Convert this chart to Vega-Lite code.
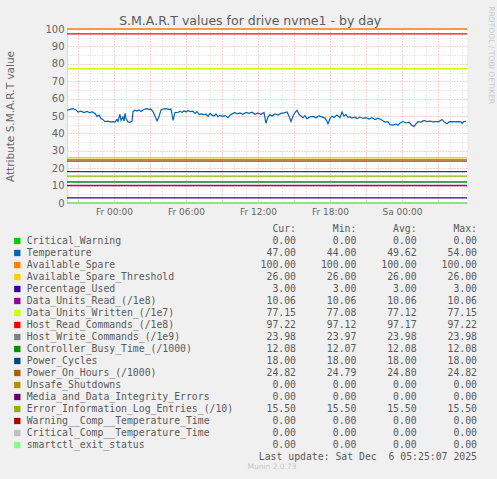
{
  "$schema": "https://vega.github.io/schema/vega-lite/v6.json",
  "background": "#F0F0F0",
  "padding": {"left": 5, "right": 3, "top": 5, "bottom": 8},
  "bounds": "flush",
  "spacing": 26,
  "title": {"text": "S.M.A.R.T values for drive nvme1 - by day", "font": "DejaVu Sans", "fontSize": 12.5, "fontWeight": "normal", "color": "#5c5c5c", "anchor": "middle", "offset": -22},
  "config": {"view": {"stroke": null}, "font": "DejaVu Sans"},
  "datasets": {
    "temperature": [
      {"time": "2025-12-04T20:05", "value": 53.3}, {"time": "2025-12-04T20:20", "value": 53.8}, {"time": "2025-12-04T20:35", "value": 54.2}, {"time": "2025-12-04T20:50", "value": 53.5},
      {"time": "2025-12-04T21:00", "value": 52.3}, {"time": "2025-12-04T21:15", "value": 52.8}, {"time": "2025-12-04T21:30", "value": 52.0}, {"time": "2025-12-04T21:45", "value": 52.6},
      {"time": "2025-12-04T22:00", "value": 51.8}, {"time": "2025-12-04T22:10", "value": 52.5}, {"time": "2025-12-04T22:25", "value": 51.5}, {"time": "2025-12-04T22:35", "value": 49.8},
      {"time": "2025-12-04T22:45", "value": 50.5}, {"time": "2025-12-04T22:55", "value": 48.5}, {"time": "2025-12-04T23:05", "value": 47.9}, {"time": "2025-12-04T23:15", "value": 46.8},
      {"time": "2025-12-04T23:30", "value": 47.0}, {"time": "2025-12-04T23:40", "value": 46.6}, {"time": "2025-12-04T23:55", "value": 46.8},
      {"time": "2025-12-05T00:05", "value": 46.5}, {"time": "2025-12-05T00:15", "value": 48.0}, {"time": "2025-12-05T00:20", "value": 46.9}, {"time": "2025-12-05T00:30", "value": 51.0},
      {"time": "2025-12-05T00:35", "value": 47.5}, {"time": "2025-12-05T00:45", "value": 49.5}, {"time": "2025-12-05T00:50", "value": 47.0}, {"time": "2025-12-05T00:55", "value": 51.5},
      {"time": "2025-12-05T01:00", "value": 48.5}, {"time": "2025-12-05T01:10", "value": 46.6}, {"time": "2025-12-05T01:20", "value": 46.4}, {"time": "2025-12-05T01:30", "value": 47.0},
      {"time": "2025-12-05T01:35", "value": 52.5}, {"time": "2025-12-05T01:45", "value": 53.3}, {"time": "2025-12-05T01:55", "value": 52.8}, {"time": "2025-12-05T02:05", "value": 53.5},
      {"time": "2025-12-05T02:15", "value": 52.6}, {"time": "2025-12-05T02:25", "value": 53.4}, {"time": "2025-12-05T02:35", "value": 54.0}, {"time": "2025-12-05T02:45", "value": 54.2},
      {"time": "2025-12-05T02:55", "value": 53.8}, {"time": "2025-12-05T03:05", "value": 54.0}, {"time": "2025-12-05T03:15", "value": 52.5}, {"time": "2025-12-05T03:25", "value": 50.0},
      {"time": "2025-12-05T03:35", "value": 47.2}, {"time": "2025-12-05T03:45", "value": 49.5}, {"time": "2025-12-05T03:55", "value": 53.5}, {"time": "2025-12-05T04:05", "value": 54.0},
      {"time": "2025-12-05T04:20", "value": 54.2}, {"time": "2025-12-05T04:35", "value": 53.8}, {"time": "2025-12-05T04:45", "value": 54.0}, {"time": "2025-12-05T04:50", "value": 51.0},
      {"time": "2025-12-05T04:55", "value": 47.5}, {"time": "2025-12-05T05:05", "value": 52.0}, {"time": "2025-12-05T05:20", "value": 52.0}, {"time": "2025-12-05T05:30", "value": 52.8},
      {"time": "2025-12-05T05:40", "value": 52.0}, {"time": "2025-12-05T05:50", "value": 53.0}, {"time": "2025-12-05T06:00", "value": 52.3}, {"time": "2025-12-05T06:10", "value": 53.2},
      {"time": "2025-12-05T06:20", "value": 52.5}, {"time": "2025-12-05T06:35", "value": 52.8}, {"time": "2025-12-05T06:45", "value": 51.5}, {"time": "2025-12-05T06:55", "value": 52.5},
      {"time": "2025-12-05T07:05", "value": 51.0}, {"time": "2025-12-05T07:15", "value": 51.2}, {"time": "2025-12-05T07:30", "value": 50.8}, {"time": "2025-12-05T07:40", "value": 51.0},
      {"time": "2025-12-05T07:50", "value": 49.8}, {"time": "2025-12-05T08:00", "value": 51.5}, {"time": "2025-12-05T08:10", "value": 50.5}, {"time": "2025-12-05T08:20", "value": 50.0},
      {"time": "2025-12-05T08:30", "value": 51.2}, {"time": "2025-12-05T08:40", "value": 49.5}, {"time": "2025-12-05T08:50", "value": 50.5}, {"time": "2025-12-05T09:00", "value": 49.8},
      {"time": "2025-12-05T09:10", "value": 50.2}, {"time": "2025-12-05T09:20", "value": 50.0}, {"time": "2025-12-05T09:30", "value": 49.0}, {"time": "2025-12-05T09:40", "value": 50.5},
      {"time": "2025-12-05T09:55", "value": 51.5}, {"time": "2025-12-05T10:05", "value": 52.0}, {"time": "2025-12-05T10:15", "value": 51.2}, {"time": "2025-12-05T10:30", "value": 51.8},
      {"time": "2025-12-05T10:45", "value": 51.0}, {"time": "2025-12-05T11:00", "value": 52.0}, {"time": "2025-12-05T11:15", "value": 51.5}, {"time": "2025-12-05T11:30", "value": 52.2},
      {"time": "2025-12-05T11:45", "value": 51.0}, {"time": "2025-12-05T12:00", "value": 51.8}, {"time": "2025-12-05T12:15", "value": 51.0}, {"time": "2025-12-05T12:30", "value": 52.0},
      {"time": "2025-12-05T12:40", "value": 45.8}, {"time": "2025-12-05T12:50", "value": 49.5}, {"time": "2025-12-05T13:00", "value": 50.8}, {"time": "2025-12-05T13:10", "value": 50.0},
      {"time": "2025-12-05T13:25", "value": 51.2}, {"time": "2025-12-05T13:40", "value": 50.5}, {"time": "2025-12-05T13:55", "value": 51.5}, {"time": "2025-12-05T14:10", "value": 51.8},
      {"time": "2025-12-05T14:25", "value": 52.3}, {"time": "2025-12-05T14:35", "value": 49.8}, {"time": "2025-12-05T14:45", "value": 46.8}, {"time": "2025-12-05T14:55", "value": 50.0},
      {"time": "2025-12-05T15:05", "value": 52.0}, {"time": "2025-12-05T15:15", "value": 53.3}, {"time": "2025-12-05T15:25", "value": 51.0}, {"time": "2025-12-05T15:35", "value": 50.0},
      {"time": "2025-12-05T15:45", "value": 49.0}, {"time": "2025-12-05T15:55", "value": 50.2}, {"time": "2025-12-05T16:05", "value": 48.5}, {"time": "2025-12-05T16:20", "value": 49.5},
      {"time": "2025-12-05T16:35", "value": 49.8}, {"time": "2025-12-05T16:50", "value": 49.0}, {"time": "2025-12-05T17:05", "value": 50.0}, {"time": "2025-12-05T17:20", "value": 49.5},
      {"time": "2025-12-05T17:35", "value": 48.8}, {"time": "2025-12-05T17:45", "value": 47.0}, {"time": "2025-12-05T17:50", "value": 45.5}, {"time": "2025-12-05T18:00", "value": 48.5},
      {"time": "2025-12-05T18:10", "value": 50.0}, {"time": "2025-12-05T18:20", "value": 49.2}, {"time": "2025-12-05T18:35", "value": 50.5}, {"time": "2025-12-05T18:50", "value": 49.0},
      {"time": "2025-12-05T19:00", "value": 52.3}, {"time": "2025-12-05T19:10", "value": 50.0}, {"time": "2025-12-05T19:20", "value": 50.8}, {"time": "2025-12-05T19:30", "value": 49.2},
      {"time": "2025-12-05T19:40", "value": 49.6}, {"time": "2025-12-05T19:50", "value": 48.8}, {"time": "2025-12-05T20:05", "value": 49.3}, {"time": "2025-12-05T20:15", "value": 48.5},
      {"time": "2025-12-05T20:30", "value": 49.4}, {"time": "2025-12-05T20:45", "value": 48.6}, {"time": "2025-12-05T21:00", "value": 49.0}, {"time": "2025-12-05T21:15", "value": 48.2},
      {"time": "2025-12-05T21:30", "value": 49.0}, {"time": "2025-12-05T21:45", "value": 48.0}, {"time": "2025-12-05T22:00", "value": 48.8}, {"time": "2025-12-05T22:15", "value": 48.0},
      {"time": "2025-12-05T22:25", "value": 47.2}, {"time": "2025-12-05T22:35", "value": 46.5}, {"time": "2025-12-05T22:50", "value": 46.8}, {"time": "2025-12-05T23:00", "value": 45.0},
      {"time": "2025-12-05T23:15", "value": 44.8}, {"time": "2025-12-05T23:30", "value": 45.5}, {"time": "2025-12-05T23:40", "value": 44.6}, {"time": "2025-12-05T23:50", "value": 46.0},
      {"time": "2025-12-06T00:05", "value": 46.8}, {"time": "2025-12-06T00:20", "value": 46.0}, {"time": "2025-12-06T00:35", "value": 46.5}, {"time": "2025-12-06T00:50", "value": 44.6},
      {"time": "2025-12-06T01:00", "value": 44.0}, {"time": "2025-12-06T01:10", "value": 45.5}, {"time": "2025-12-06T01:20", "value": 46.8}, {"time": "2025-12-06T01:35", "value": 46.5},
      {"time": "2025-12-06T01:50", "value": 47.4}, {"time": "2025-12-06T02:05", "value": 46.8}, {"time": "2025-12-06T02:20", "value": 47.0}, {"time": "2025-12-06T02:35", "value": 46.6},
      {"time": "2025-12-06T02:50", "value": 46.8}, {"time": "2025-12-06T03:05", "value": 46.8}, {"time": "2025-12-06T03:20", "value": 48.0}, {"time": "2025-12-06T03:30", "value": 46.6},
      {"time": "2025-12-06T03:45", "value": 45.5}, {"time": "2025-12-06T03:55", "value": 46.6}, {"time": "2025-12-06T04:10", "value": 46.8}, {"time": "2025-12-06T04:25", "value": 46.6},
      {"time": "2025-12-06T04:40", "value": 46.8}, {"time": "2025-12-06T04:55", "value": 46.6}, {"time": "2025-12-06T05:00", "value": 45.8}, {"time": "2025-12-06T05:10", "value": 46.8},
      {"time": "2025-12-06T05:20", "value": 47.0}
    ],
    "series": [
      {"name": "Critical_Warning", "Cur": 0, "Min": 0, "Avg": 0, "Max": 0},
      {"name": "Temperature", "Cur": 47, "Min": 44, "Avg": 49.62, "Max": 54},
      {"name": "Available_Spare", "Cur": 100, "Min": 100, "Avg": 100, "Max": 100},
      {"name": "Available_Spare_Threshold", "Cur": 26, "Min": 26, "Avg": 26, "Max": 26},
      {"name": "Percentage_Used", "Cur": 3, "Min": 3, "Avg": 3, "Max": 3},
      {"name": "Data_Units_Read_(/1e8)", "Cur": 10.06, "Min": 10.06, "Avg": 10.06, "Max": 10.06},
      {"name": "Data_Units_Written_(/1e7)", "Cur": 77.15, "Min": 77.08, "Avg": 77.12, "Max": 77.15},
      {"name": "Host_Read_Commands_(/1e8)", "Cur": 97.22, "Min": 97.12, "Avg": 97.17, "Max": 97.22},
      {"name": "Host_Write_Commands_(/1e9)", "Cur": 23.98, "Min": 23.97, "Avg": 23.98, "Max": 23.98},
      {"name": "Controller_Busy_Time_(/1000)", "Cur": 12.08, "Min": 12.07, "Avg": 12.08, "Max": 12.08},
      {"name": "Power_Cycles", "Cur": 18, "Min": 18, "Avg": 18, "Max": 18},
      {"name": "Power_On_Hours_(/1000)", "Cur": 24.82, "Min": 24.79, "Avg": 24.8, "Max": 24.82},
      {"name": "Unsafe_Shutdowns", "Cur": 0, "Min": 0, "Avg": 0, "Max": 0},
      {"name": "Media_and_Data_Integrity_Errors", "Cur": 0, "Min": 0, "Avg": 0, "Max": 0},
      {"name": "Error_Information_Log_Entries_(/10)", "Cur": 15.5, "Min": 15.5, "Avg": 15.5, "Max": 15.5},
      {"name": "Warning__Comp__Temperature_Time", "Cur": 0, "Min": 0, "Avg": 0, "Max": 0},
      {"name": "Critical_Comp__Temperature_Time", "Cur": 0, "Min": 0, "Avg": 0, "Max": 0},
      {"name": "smartctl_exit_status", "Cur": 0, "Min": 0, "Avg": 0, "Max": 0}
    ],
    "header": [
      {"stat": "Cur", "label": "Cur:"},
      {"stat": "Min", "label": "Min:\u00a0"},
      {"stat": "Avg", "label": "Avg:\u00a0"},
      {"stat": "Max", "label": "Max:\u00a0"}
    ],
    "footer": [
      {"label": "Last update: Sat Dec\u00a0 6 05:25:07 2025"}
    ]
  },
  "vconcat": [
    {
      "width": 400,
      "height": 174,
      "view": {"fill": "#FFFFFF", "stroke": null},
      "layer": [
        {
          "data": {"name": "temperature"},
          "mark": {"type": "line", "strokeWidth": 1.2, "color": "#0066B3"},
          "encoding": {
            "x": {
              "field": "time",
              "type": "temporal",
              "scale": {"domain": [
                {"year": 2025, "month": 12, "date": 4, "hours": 20, "minutes": 5},
                {"year": 2025, "month": 12, "date": 6, "hours": 5, "minutes": 25}
              ]},
              "axis": {
                "orient": "bottom",
                "title": null,
                "values": [
                  {"year": 2025, "month": 12, "date": 4, "hours": 21},
                  {"year": 2025, "month": 12, "date": 5, "hours": 0},
                  {"year": 2025, "month": 12, "date": 5, "hours": 3},
                  {"year": 2025, "month": 12, "date": 5, "hours": 6},
                  {"year": 2025, "month": 12, "date": 5, "hours": 9},
                  {"year": 2025, "month": 12, "date": 5, "hours": 12},
                  {"year": 2025, "month": 12, "date": 5, "hours": 15},
                  {"year": 2025, "month": 12, "date": 5, "hours": 18},
                  {"year": 2025, "month": 12, "date": 5, "hours": 21},
                  {"year": 2025, "month": 12, "date": 6, "hours": 0},
                  {"year": 2025, "month": 12, "date": 6, "hours": 3}
                ],
                "labelExpr": "hours(datum.value) % 6 == 0 ? (day(datum.value) == 5 ? 'Fr' : 'Sa') + timeFormat(datum.value, ' %H:%M') : ''",
                "labelOverlap": false,
                "labelFlush": false,
                "labelFont": "DejaVu Sans",
                "labelFontSize": 9,
                "labelColor": "#666666",
                "labelPadding": 4,
                "ticks": false,
                "domainColor": "#CFD6F8",
                "grid": true,
                "gridDash": [1, 2],
                "gridOpacity": 1,
                "gridColor": "#EFA5A5"
              }
            },
            "y": {
              "field": "value",
              "type": "quantitative",
              "scale": {"domain": [0, 100], "nice": false},
              "axis": {
                "orient": "left",
                "values": [0, 10, 20, 30, 40, 50, 60, 70, 80, 90, 100],
                "labelFont": "DejaVu Sans",
                "labelFontSize": 10,
                "labelColor": "#666666",
                "labelPadding": 3,
                "title": "Attribute S.M.A.R.T value",
                "titleFont": "DejaVu Sans",
                "titleFontSize": 10.5,
                "titleFontWeight": "normal",
                "titleColor": "#666666",
                "titlePadding": 29,
                "ticks": false,
                "domainColor": "#CFD6F8",
                "grid": true,
                "gridDash": [1, 2],
                "gridOpacity": 1,
                "gridColor": "#EFA5A5"
              }
            }
          }
        },
        {
          "data": {"name": "series"},
          "transform": [{"filter": "datum.name !== 'Temperature'"}],
          "mark": {"type": "rule", "strokeWidth": 1.3},
          "encoding": {
            "x": {
              "datum": {"year": 2025, "month": 12, "date": 4, "hours": 20, "minutes": 5},
              "type": "temporal",
              "axis": {
                "orient": "top",
                "title": null,
                "labels": false,
                "ticks": false,
                "domain": false,
                "grid": true,
                "gridDash": [1, 2],
                "gridOpacity": 1,
                "gridColor": "#D4D4D4",
                "values": [
                  {"year": 2025, "month": 12, "date": 4, "hours": 22},
                  {"year": 2025, "month": 12, "date": 4, "hours": 23},
                  {"year": 2025, "month": 12, "date": 5, "hours": 1},
                  {"year": 2025, "month": 12, "date": 5, "hours": 2},
                  {"year": 2025, "month": 12, "date": 5, "hours": 4},
                  {"year": 2025, "month": 12, "date": 5, "hours": 5},
                  {"year": 2025, "month": 12, "date": 5, "hours": 7},
                  {"year": 2025, "month": 12, "date": 5, "hours": 8},
                  {"year": 2025, "month": 12, "date": 5, "hours": 10},
                  {"year": 2025, "month": 12, "date": 5, "hours": 11},
                  {"year": 2025, "month": 12, "date": 5, "hours": 13},
                  {"year": 2025, "month": 12, "date": 5, "hours": 14},
                  {"year": 2025, "month": 12, "date": 5, "hours": 16},
                  {"year": 2025, "month": 12, "date": 5, "hours": 17},
                  {"year": 2025, "month": 12, "date": 5, "hours": 19},
                  {"year": 2025, "month": 12, "date": 5, "hours": 20},
                  {"year": 2025, "month": 12, "date": 5, "hours": 22},
                  {"year": 2025, "month": 12, "date": 5, "hours": 23},
                  {"year": 2025, "month": 12, "date": 6, "hours": 1},
                  {"year": 2025, "month": 12, "date": 6, "hours": 2},
                  {"year": 2025, "month": 12, "date": 6, "hours": 4},
                  {"year": 2025, "month": 12, "date": 6, "hours": 5}
                ]
              }
            },
            "x2": {"datum": {"year": 2025, "month": 12, "date": 6, "hours": 5, "minutes": 25}},
            "y": {
              "field": "Cur",
              "type": "quantitative",
              "axis": {
                "orient": "right",
                "values": [5, 15, 25, 35, 45, 55, 65, 75, 85, 95],
                "labels": false,
                "ticks": false,
                "domain": false,
                "grid": true,
                "gridDash": [1, 2],
                "gridOpacity": 1,
                "gridColor": "#D4D4D4",
                "title": "RRDTOOL / TOBI OETIKER",
                "titleFont": "DejaVu Sans",
                "titleFontSize": 7.6,
                "titleFontWeight": "normal",
                "titleColor": "#C8C8C8",
                "titleAngle": 90,
                "titleAlign": "left",
                "titleBaseline": "middle",
                "titleX": 23.5,
                "titleY": -23.3
              }
            },
            "color": {
              "field": "name",
              "type": "nominal",
              "legend": null,
              "scale": {
                "domain": ["Critical_Warning", "Temperature", "Available_Spare", "Available_Spare_Threshold", "Percentage_Used", "Data_Units_Read_(/1e8)", "Data_Units_Written_(/1e7)", "Host_Read_Commands_(/1e8)", "Host_Write_Commands_(/1e9)", "Controller_Busy_Time_(/1000)", "Power_Cycles", "Power_On_Hours_(/1000)", "Unsafe_Shutdowns", "Media_and_Data_Integrity_Errors", "Error_Information_Log_Entries_(/10)", "Warning__Comp__Temperature_Time", "Critical_Comp__Temperature_Time", "smartctl_exit_status"],
                "range": ["#00CC00", "#0066B3", "#FF8000", "#FFCC00", "#330099", "#990099", "#CCFF00", "#FF0000", "#808080", "#008F00", "#00487D", "#B35A00", "#B38F00", "#6B006B", "#8FB300", "#B30000", "#BEBEBE", "#80FF80"]
              }
            }
          }
        }
      ],
      "resolve": {"axis": {"x": "independent", "y": "independent"}}
    },
    {
      "width": 410,
      "height": 228,
      "title": {"text": "Munin 2.0.73", "orient": "bottom", "anchor": "middle", "font": "DejaVu Sans", "fontSize": 7.5, "fontWeight": "normal", "color": "#C8C8C8", "offset": 1},
      "layer": [
        {
          "data": {"name": "series"},
          "mark": {"type": "point", "shape": "square", "filled": true, "size": 40, "opacity": 1, "xOffset": -278.7},
          "encoding": {
            "x": {"datum": "Cur", "type": "nominal", "scale": {"domain": ["Cur", "Min", "Avg", "Max"], "range": [229, 410], "padding": 0}, "axis": null},
            "y": {
              "field": "name",
              "type": "nominal",
              "axis": null,
              "scale": {
                "padding": 0,
                "domain": ["hdr", "Critical_Warning", "Temperature", "Available_Spare", "Available_Spare_Threshold", "Percentage_Used", "Data_Units_Read_(/1e8)", "Data_Units_Written_(/1e7)", "Host_Read_Commands_(/1e8)", "Host_Write_Commands_(/1e9)", "Controller_Busy_Time_(/1000)", "Power_Cycles", "Power_On_Hours_(/1000)", "Unsafe_Shutdowns", "Media_and_Data_Integrity_Errors", "Error_Information_Log_Entries_(/10)", "Warning__Comp__Temperature_Time", "Critical_Comp__Temperature_Time", "smartctl_exit_status", "upd"]
              }
            },
            "color": {
              "field": "name",
              "type": "nominal",
              "legend": null,
              "scale": {
                "domain": ["Critical_Warning", "Temperature", "Available_Spare", "Available_Spare_Threshold", "Percentage_Used", "Data_Units_Read_(/1e8)", "Data_Units_Written_(/1e7)", "Host_Read_Commands_(/1e8)", "Host_Write_Commands_(/1e9)", "Controller_Busy_Time_(/1000)", "Power_Cycles", "Power_On_Hours_(/1000)", "Unsafe_Shutdowns", "Media_and_Data_Integrity_Errors", "Error_Information_Log_Entries_(/10)", "Warning__Comp__Temperature_Time", "Critical_Comp__Temperature_Time", "smartctl_exit_status"],
                "range": ["#00CC00", "#0066B3", "#FF8000", "#FFCC00", "#330099", "#990099", "#CCFF00", "#FF0000", "#808080", "#008F00", "#00487D", "#B35A00", "#B38F00", "#6B006B", "#8FB300", "#B30000", "#BEBEBE", "#80FF80"]
              }
            }
          }
        },
        {
          "data": {"name": "series"},
          "mark": {"type": "text", "align": "left", "baseline": "middle", "dx": -269.3, "font": "DejaVu Sans Mono", "fontSize": 9.8, "color": "#5a5a5a"},
          "encoding": {
            "x": {"datum": "Cur", "type": "nominal"},
            "y": {"field": "name", "type": "nominal"},
            "text": {"field": "name"}
          }
        },
        {
          "data": {"name": "series"},
          "transform": [{"fold": ["Cur", "Min", "Avg", "Max"], "as": ["stat", "v"]}],
          "mark": {"type": "text", "align": "right", "baseline": "middle", "font": "DejaVu Sans Mono", "fontSize": 9.8, "color": "#5a5a5a"},
          "encoding": {
            "x": {"field": "stat", "type": "nominal"},
            "y": {"field": "name", "type": "nominal"},
            "text": {"field": "v", "type": "quantitative", "format": ".2f"}
          }
        },
        {
          "data": {"name": "header"},
          "mark": {"type": "text", "align": "right", "baseline": "middle", "font": "DejaVu Sans Mono", "fontSize": 9.8, "color": "#5a5a5a"},
          "encoding": {
            "x": {"field": "stat", "type": "nominal"},
            "y": {"datum": "hdr", "type": "nominal"},
            "text": {"field": "label"}
          }
        },
        {
          "data": {"name": "footer"},
          "mark": {"type": "text", "align": "right", "baseline": "middle", "font": "DejaVu Sans Mono", "fontSize": 9.8, "color": "#5a5a5a"},
          "encoding": {
            "x": {"datum": "Max", "type": "nominal"},
            "y": {"datum": "upd", "type": "nominal"},
            "text": {"field": "label"}
          }
        }
      ]
    }
  ]
}
